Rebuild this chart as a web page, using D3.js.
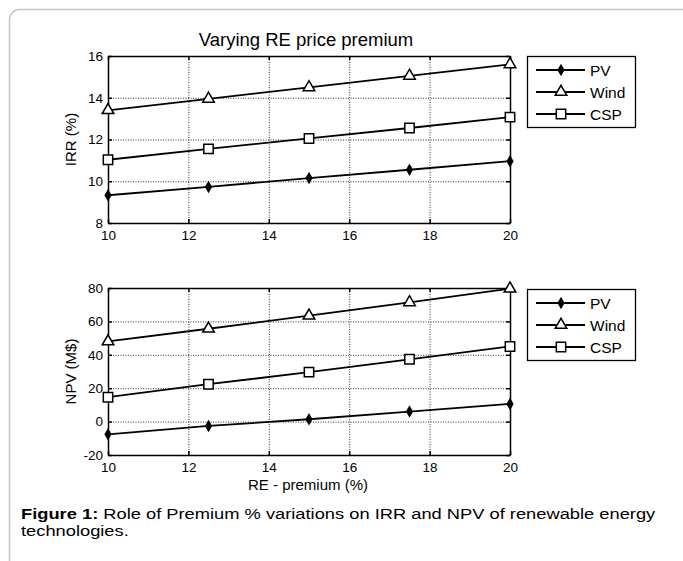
<!DOCTYPE html>
<html>
<head>
<meta charset="utf-8">
<script src="https://cdn.jsdelivr.net/npm/d3@7"></script>
<style>
  body { margin: 0; background: #fff; }
  svg { font-family: "Liberation Sans", Arial, sans-serif; }
</style>
</head>
<body>
<svg width="683" height="561"></svg>
<script>
// data
var premium = [10, 12.5, 15, 17.5, 20];
var seriesNames = ["PV", "Wind", "CSP"];
var irrPV = [9.33, 9.73, 10.15, 10.55, 10.96];
var irrWind = [13.4, 13.95, 14.5, 15.05, 15.6];
var irrCSP = [11.03, 11.55, 12.05, 12.55, 13.07];
var npvPV = [-7.6, -2.6, 1.4, 6.0, 10.6];
var npvWind = [48, 55.6, 63.4, 71.4, 79.6];
var npvCSP = [14.6, 22.4, 29.6, 37.3, 45.0];
var xTicks = [10, 12, 14, 16, 18, 20];
var irrTicks = [8, 10, 12, 14, 16];
var npvTicks = [-20, 0, 20, 40, 60, 80];

var svg = d3.select("svg");

// page frame
svg.append("rect")
  .attr("x", 9.5).attr("y", 9.5)
  .attr("width", 700).attr("height", 620)
  .attr("rx", 10)
  .attr("fill", "none")
  .attr("stroke", "#c6c6c6")
  .attr("stroke-width", 1.5);

var xScale = d3.scaleLinear().domain([10, 20]).range([108, 510]);

function markerPath(name) {
  if (name == "PV") return d3.symbol().type(d3.symbolDiamond).size(26)();
  if (name == "Wind") return d3.symbol().type(d3.symbolTriangle).size(58)();
  return d3.symbol().type(d3.symbolSquare).size(88)();
}

function drawPanel(values, yDomain, yRange, yTicks, yLabel, legendTop) {
  var yScale = d3.scaleLinear().domain(yDomain).range(yRange);
  var top = yRange[1], bottom = yRange[0];
  var left = xScale.range()[0], right = xScale.range()[1];
  var g = svg.append("g");

  // dotted grid
  g.append("g")
    .attr("transform", `translate(0, ${bottom})`)
    .call(d3.axisBottom(xScale).tickValues(xTicks).tickSize(-(bottom - top)).tickFormat(""))
    .call(a => a.select(".domain").remove())
    .selectAll("line").attr("stroke", "#333").attr("stroke-dasharray", "1,1.5");
  g.append("g")
    .attr("transform", `translate(${left}, 0)`)
    .call(d3.axisLeft(yScale).tickValues(yTicks).tickSize(-(right - left)).tickFormat(""))
    .call(a => a.select(".domain").remove())
    .selectAll("line").attr("stroke", "#333").attr("stroke-dasharray", "1,1.5");

  // axes with inside ticks
  g.append("g")
    .attr("transform", `translate(0, ${bottom})`)
    .call(d3.axisBottom(xScale).tickValues(xTicks).tickSizeInner(-4).tickSizeOuter(0).tickPadding(7)
      .tickFormat(d => String(d)));
  g.append("g")
    .attr("transform", `translate(${left}, 0)`)
    .call(d3.axisLeft(yScale).tickValues(yTicks).tickSizeInner(-4).tickSizeOuter(0).tickPadding(5)
      .tickFormat(d => String(d)));
  g.append("g")
    .attr("transform", `translate(0, ${top})`)
    .call(d3.axisTop(xScale).tickValues(xTicks).tickSizeInner(-4).tickSizeOuter(0).tickFormat(""));
  g.append("g")
    .attr("transform", `translate(${right}, 0)`)
    .call(d3.axisRight(yScale).tickValues(yTicks).tickSizeInner(-4).tickSizeOuter(0).tickFormat(""));
  g.selectAll(".domain, .tick line:not([stroke-dasharray])")
    .attr("stroke", "#000").attr("stroke-width", 1.5);
  g.selectAll(".tick text")
    .attr("fill", "#000")
    .style("font-size", "13.5px")
    .style("font-family", "Liberation Sans, Arial, sans-serif");

  g.append("text")
    .attr("transform", `translate(76, ${(top + bottom) / 2}) rotate(-90)`)
    .attr("text-anchor", "middle")
    .style("font-size", "15px")
    .text(yLabel);

  var line = d3.line().x((d, i) => xScale(premium[i])).y(d => yScale(d));
  values.forEach(function(vals, k) {
    g.append("path")
      .datum(vals)
      .attr("d", line)
      .attr("fill", "none")
      .attr("stroke", "#000")
      .attr("stroke-width", 1.8);
    g.selectAll(null)
      .data(vals)
      .enter()
      .append("path")
      .attr("d", markerPath(seriesNames[k]))
      .attr("transform", (d, i) => `translate(${xScale(premium[i])}, ${yScale(d)})`)
      .attr("fill", seriesNames[k] == "PV" ? "#000" : "#fff")
      .attr("stroke", "#000")
      .attr("stroke-width", 1.5);
  });

  // legend
  var lg = g.append("g").attr("transform", `translate(527, ${legendTop})`);
  lg.append("rect")
    .attr("x", 0.5).attr("y", 0.5)
    .attr("width", 108).attr("height", 71)
    .attr("fill", "#fff")
    .attr("stroke", "#000")
    .attr("stroke-width", 1.3);
  seriesNames.forEach(function(name, k) {
    var yy = 14 + k * 22;
    lg.append("line")
      .attr("x1", 9).attr("x2", 58)
      .attr("y1", yy).attr("y2", yy)
      .attr("stroke", "#000").attr("stroke-width", 1.8);
    lg.append("path")
      .attr("d", markerPath(name))
      .attr("transform", `translate(34, ${yy})`)
      .attr("fill", name == "PV" ? "#000" : "#fff")
      .attr("stroke", "#000").attr("stroke-width", 1.5);
    lg.append("text")
      .attr("x", 63).attr("y", yy + 5.5)
      .style("font-size", "15.5px")
      .text(name);
  });
}

drawPanel([irrPV, irrWind, irrCSP], [8, 16], [223, 56], irrTicks, "IRR (%)", 56);
drawPanel([npvPV, npvWind, npvCSP], [-20, 80], [455, 288], npvTicks, "NPV (M$)", 289);

svg.append("text")
  .attr("x", 306).attr("y", 46)
  .attr("text-anchor", "middle")
  .style("font-size", "18.5px")
  .text("Varying RE price premium");

svg.append("text")
  .attr("x", 308).attr("y", 490)
  .attr("text-anchor", "middle")
  .style("font-size", "15px")
  .text("RE - premium (%)");

// caption text in the reference is drawn wider than the figure text
var capG = svg.append("g").attr("transform", "translate(21, 0) scale(1.22, 1)");
var cap = capG.append("text").attr("x", 0).attr("y", 519).style("font-size", "15px");
cap.append("tspan").style("font-weight", "bold").text("Figure 1:");
cap.append("tspan").text(" Role of Premium % variations on IRR and NPV of renewable energy");
capG.append("text").attr("x", 0).attr("y", 536).style("font-size", "15px").text("technologies.");
</script>
</body>
</html>
